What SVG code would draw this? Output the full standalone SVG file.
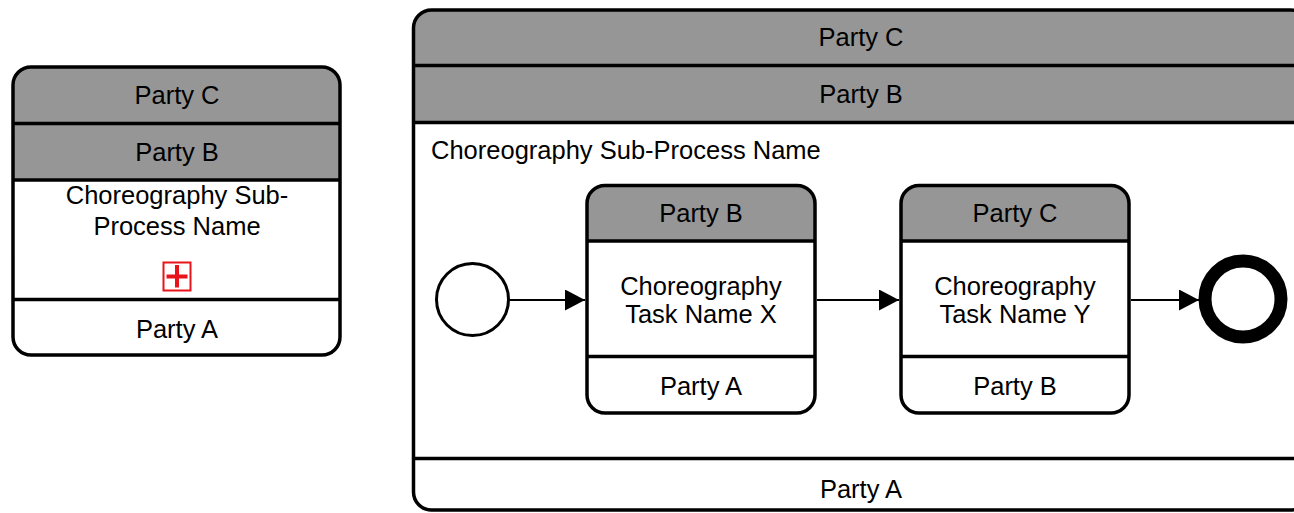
<svg xmlns="http://www.w3.org/2000/svg" width="1294" height="513" viewBox="0 0 1294 513">
  <style>
    .frame { fill: none; stroke: #000; stroke-width: 3.5; }
    .bg { fill: #fff; stroke: none; }
    .band { fill: #969696; stroke: none; }
    .div { stroke: #000; stroke-width: 3.5; fill: none; }
    .t { font-family: "Liberation Sans", Arial, sans-serif; font-size: 25.5px; fill: #000; }
    .c { text-anchor: middle; }
    .flow { stroke: #000; stroke-width: 2; fill: none; marker-end: url(#arrow); }
  </style>
  <defs>
    <marker id="arrow" markerUnits="userSpaceOnUse" markerWidth="20" markerHeight="21" refX="20" refY="10.5" orient="auto" viewBox="0 0 20 21">
      <path d="M0,0 L20,10.5 L0,21 Z" fill="#000"/>
    </marker>
  </defs>

  <rect width="1294" height="513" fill="#fff"/>

  <!-- Collapsed choreography sub-process -->
  <g id="collapsed-subprocess">
    <rect class="bg" x="13" y="67" width="327" height="288" rx="18"/>
    <path class="band" d="M13,180 V85 A18,18 0 0 1 31,67 H322 A18,18 0 0 1 340,85 V180 Z"/>
    <line class="div" x1="13" y1="123.5" x2="340" y2="123.5"/>
    <line class="div" x1="13" y1="180" x2="340" y2="180"/>
    <line class="div" x1="13" y1="299.5" x2="340" y2="299.5"/>
    <rect class="frame" x="13" y="67" width="327" height="288" rx="18"/>
    <text class="t c" x="177" y="104">Party C</text>
    <text class="t c" x="177" y="161">Party B</text>
    <text class="t c" x="177" y="204">Choreography Sub-</text>
    <text class="t c" x="177" y="235">Process Name</text>
    <rect x="163.5" y="262.5" width="27" height="28" fill="none" stroke="#e8141b" stroke-width="2"/>
    <line x1="166.5" y1="276.5" x2="187.5" y2="276.5" stroke="#e8141b" stroke-width="4"/>
    <line x1="177" y1="265" x2="177" y2="287.5" stroke="#e8141b" stroke-width="4"/>
    <text class="t c" x="177" y="338">Party A</text>
  </g>

  <!-- Expanded choreography sub-process -->
  <g id="expanded-subprocess">
    <rect class="bg" x="413.5" y="10" width="895" height="500" rx="18"/>
    <path class="band" d="M413.5,122.5 V28 A18,18 0 0 1 431.5,10 H1290.5 A18,18 0 0 1 1308.5,28 V122.5 Z"/>
    <line class="div" x1="413.5" y1="65.5" x2="1308.5" y2="65.5"/>
    <line class="div" x1="413.5" y1="122.5" x2="1308.5" y2="122.5"/>
    <line class="div" x1="413.5" y1="458.5" x2="1308.5" y2="458.5"/>
    <rect class="frame" x="413.5" y="10" width="895" height="500" rx="18"/>
    <text class="t c" x="861" y="46">Party C</text>
    <text class="t c" x="861" y="103">Party B</text>
    <text class="t" x="431" y="159">Choreography Sub-Process Name</text>
    <text class="t c" x="861" y="498">Party A</text>
  </g>

  <g id="start-event">
    <circle cx="472.5" cy="299.5" r="36" fill="#fff" stroke="#000" stroke-width="3"/>
  </g>

  <g id="task-x">
    <rect class="bg" x="587" y="185.5" width="228" height="227.5" rx="18"/>
    <path class="band" d="M587,241 V203.5 A18,18 0 0 1 605,185.5 H797 A18,18 0 0 1 815,203.5 V241 Z"/>
    <line class="div" x1="587" y1="241" x2="815" y2="241"/>
    <line class="div" x1="587" y1="356.5" x2="815" y2="356.5"/>
    <rect class="frame" x="587" y="185.5" width="228" height="227.5" rx="18"/>
    <text class="t c" x="701" y="222">Party B</text>
    <text class="t c" x="701" y="295">Choreography</text>
    <text class="t c" x="701" y="323">Task Name X</text>
    <text class="t c" x="701" y="395">Party A</text>
  </g>

  <g id="task-y">
    <rect class="bg" x="901" y="185.5" width="228" height="227.5" rx="18"/>
    <path class="band" d="M901,241 V203.5 A18,18 0 0 1 919,185.5 H1111 A18,18 0 0 1 1129,203.5 V241 Z"/>
    <line class="div" x1="901" y1="241" x2="1129" y2="241"/>
    <line class="div" x1="901" y1="356.5" x2="1129" y2="356.5"/>
    <rect class="frame" x="901" y="185.5" width="228" height="227.5" rx="18"/>
    <text class="t c" x="1015" y="222">Party C</text>
    <text class="t c" x="1015" y="295">Choreography</text>
    <text class="t c" x="1015" y="323">Task Name Y</text>
    <text class="t c" x="1015" y="395">Party B</text>
  </g>

  <g id="end-event">
    <circle cx="1243" cy="299" r="38" fill="#fff" stroke="#000" stroke-width="13"/>
  </g>

  <g id="connectors">
    <line class="flow" x1="510" y1="300" x2="585" y2="300"/>
    <line class="flow" x1="817" y1="300" x2="899" y2="300"/>
    <line class="flow" x1="1131" y1="300" x2="1199" y2="300"/>
  </g>
</svg>
